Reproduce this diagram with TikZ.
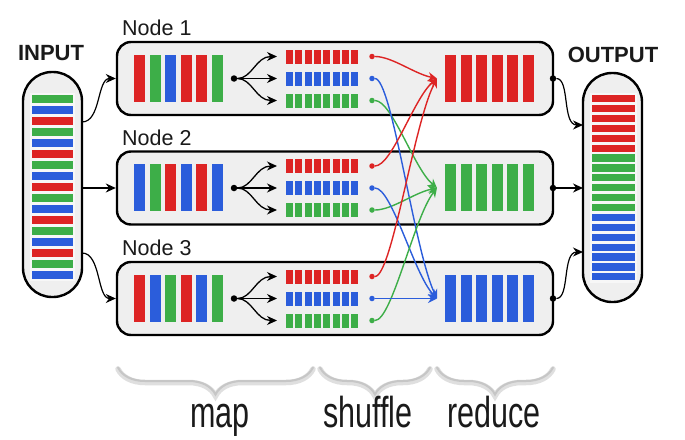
\documentclass[tikz,border=0pt]{standalone}
\usepackage{fontspec}
\setmainfont{Liberation Sans}
\usetikzlibrary{arrows.meta,decorations.pathreplacing,calc}
\definecolor{cred}{HTML}{DD2424}
\definecolor{cgreen}{HTML}{3DAE48}
\definecolor{cblue}{HTML}{2B5DDB}
\definecolor{boxfill}{HTML}{EFEFEF}
\definecolor{txt}{HTML}{1A1A1A}

\begin{document}
\begin{tikzpicture}[x=1pt,y=-1pt,
  nodebox/.style={draw=black, line width=2.4pt, fill=boxfill, rounded corners=14pt,
    minimum width=436pt, minimum height=73pt, inner sep=0pt},
  capsule/.style={draw=black, line width=2.4pt, fill=boxfill, rounded corners=29pt,
    minimum width=59pt, inner sep=0pt},
  dot/.style={circle, fill=#1, inner sep=0pt, minimum size=6.5pt},
  arr/.style={-{Stealth[length=10pt,width=9pt]}},
  flow/.style={line width=1.4pt, draw=#1, -{Stealth[length=9pt,width=9pt]}},
  label/.style={text=txt, inner sep=0pt, anchor=base},
  bracestyle/.style={decorate, decoration={brace, amplitude=27pt}, line cap=round}
]
\useasboundingbox (0,0) rectangle (685,439);
\fill[white] (0,0) rectangle (685,439);

% ---------- input and output columns ----------
\node[capsule, minimum height=225pt] (in) at (52.5,184.5) {};
\node[capsule, minimum height=229pt] (out) at (612.5,187.5) {};
\node[label, font=\bfseries\fontsize{22}{22}\selectfont] (inlab) at (51,60) {INPUT};
\node[label, font=\bfseries\fontsize{22}{22}\selectfont] (outlab) at (613,62) {OUTPUT};

\fill[white!94!gray] (30,93) rectangle (75,281);
\foreach \col [count=\i from 0] in {cgreen,cblue,cred,cgreen,cblue,cred,cgreen,cblue,cred,
                                     cgreen,cblue,cred,cgreen,cblue,cred,cgreen,cblue}
  \fill[\col] (32,95+11*\i) rectangle ++(41,7.5);

\fill[white!94!gray] (590,93) rectangle (637,283);
\foreach \col [count=\i from 0] in {cred,cred,cred,cred,cred,cred,
                                     cgreen,cgreen,cgreen,cgreen,cgreen,cgreen,
                                     cblue,cblue,cblue,cblue,cblue,cblue,cblue}
  \fill[\col] (592,95+9.9*\i) rectangle ++(43,7.2);

% ---------- the three worker nodes ----------
\node[nodebox] (n1) at (335,78.5) {};
\node[nodebox] (n2) at (335,188) {};
\node[nodebox] (n3) at (335,298.5) {};
\node[label, anchor=base west, font=\fontsize{21.5}{21.5}\selectfont] (l1) at (122,35) {Node 1};
\node[label, anchor=base west, font=\fontsize{21.5}{21.5}\selectfont] (l2) at (122,145) {Node 2};
\node[label, anchor=base west, font=\fontsize{21.5}{21.5}\selectfont] (l3) at (122,255) {Node 3};

% node contents: map input bars, fork, partitioned rows, reduce output bars
\foreach \n/\c/\cols/\rcol in {1/78.5/{cred,cgreen,cblue,cred,cred,cgreen}/cred,
                              2/188/{cblue,cgreen,cred,cblue,cred,cblue}/cgreen,
                              3/298.5/{cred,cblue,cgreen,cred,cblue,cgreen}/cblue}{
  \foreach \col [count=\i from 0] in \cols
    \fill[\col] (134+15.6*\i,\c-24) rectangle ++(11,47);
  \foreach \i in {0,...,5}
    \fill[\rcol] (445+15.6*\i,\c-24) rectangle ++(11,47);
  \foreach \col/\o in {cred/-22,cblue/0,cgreen/22}
    \foreach \i in {0,...,7}
      \fill[\col] (286+9.35*\i,\c+\o-7) rectangle ++(7,14);
  \node[dot=black] (m\n) at (234,\c) {};
  \coordinate (fa\n) at (277,\c-22);
  \coordinate (fb\n) at (277,\c);
  \coordinate (fc\n) at (277,\c+22);
  \draw[arr, line width=1.3pt] (m\n) .. controls (252,\c) and (256,\c-22) .. (fa\n);
  \draw[arr, line width=1.3pt] (m\n) -- (fb\n);
  \draw[arr, line width=1.3pt] (m\n) .. controls (252,\c) and (256,\c+22) .. (fc\n);
  \node[dot=cred, minimum size=5.5pt] (r\n) at (372,\c-22) {};
  \node[dot=cblue, minimum size=5.5pt] (b\n) at (372,\c) {};
  \node[dot=cgreen, minimum size=5.5pt] (g\n) at (372,\c+22) {};
  \coordinate (t\n) at (437,\c);
  \node[dot=black] (e\n) at (553,\c) {};
}

% ---------- shuffle: every partition goes to its reducer ----------
\foreach \src/\sy in {1/78.5,2/188,3/298.5}{
  \draw[flow=cred]   (r\src) .. controls (392,\sy-22) and (414,{78.5+0.22*(\sy-22-78.5)}) .. (t1);
  \draw[flow=cgreen] (g\src) .. controls (392,\sy+22) and (414,{188+0.22*(\sy+22-188)}) .. (t2);
  \draw[flow=cblue]  (b\src) .. controls (392,\sy) and (414,{298.5+0.22*(\sy-298.5)}) .. (t3);
}

% ---------- input splits ----------
\coordinate (i1) at (82,122);
\coordinate (i3) at (82,253);
\draw[arr, line width=1.2pt] (i1) .. controls (101,122) and (97,78.5) .. (n1.west);
\draw[arr, line width=1.2pt] (in.east |- n2.west) -- (n2.west);
\draw[arr, line width=1.2pt] (i3) .. controls (101,253) and (97,298.5) .. (n3.west);

% ---------- results collected ----------
\coordinate (o1) at (583,125);
\coordinate (o2) at (583,188);
\coordinate (o3) at (583,252);
\draw[arr, line width=1.2pt] (e1) .. controls (570,78.5) and (562,125) .. (o1);
\draw[arr, line width=1.2pt] (e2) -- (o2);
\draw[arr, line width=1.2pt] (e3) .. controls (570,298.5) and (562,252) .. (o3);

% ---------- phase braces ----------
\foreach \a/\b/\nm in {313/118/bm,430/320/bs,553/437/br}{
  \draw[bracestyle, draw=gray!25, line width=5.5pt] (\a,369) -- (\b,369);
  \draw[bracestyle, draw=gray!45, line width=2pt] (\a,367.5) -- (\b,367.5);
}
\node[label] (map) at (220,427) {\scalebox{1}[1.42]{\fontsize{30.5}{30.5}\selectfont map}};
\node[label] (shuffle) at (368,427) {\scalebox{1}[1.42]{\fontsize{30.5}{30.5}\selectfont shuffle}};
\node[label] (reduce) at (494,427) {\scalebox{1}[1.42]{\fontsize{30.5}{30.5}\selectfont reduce}};
\end{tikzpicture}
\end{document}
